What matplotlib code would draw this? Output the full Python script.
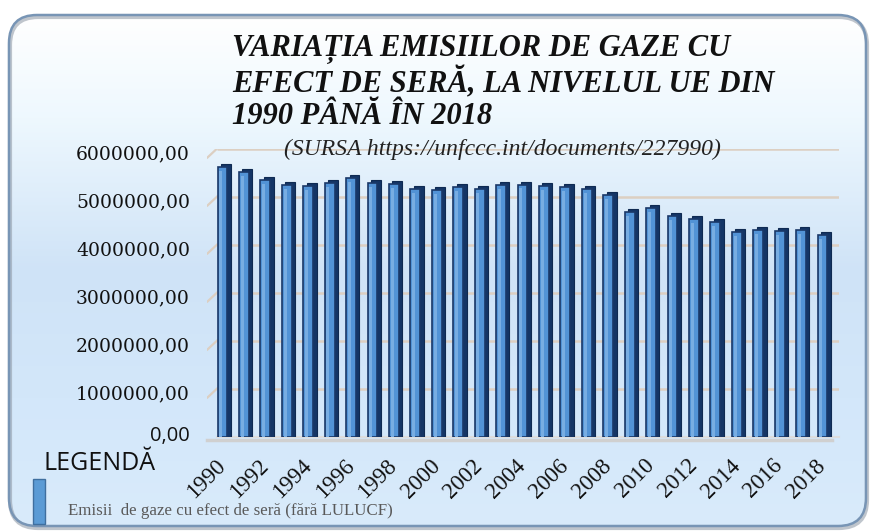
import numpy as np
import matplotlib
matplotlib.use("Agg")
import matplotlib.pyplot as plt
from matplotlib.patches import FancyBboxPatch, Rectangle
from matplotlib.colors import LinearSegmentedColormap
from matplotlib.transforms import ScaledTranslation

# ---------------- data ----------------
years = list(range(1990, 2019))
emissions = [5620000, 5520000, 5350000, 5240000, 5220000, 5280000, 5380000,
             5290000, 5260000, 5150000, 5140000, 5190000, 5150000, 5240000,
             5250000, 5210000, 5190000, 5150000, 5040000, 4670000, 4760000,
             4600000, 4540000, 4460000, 4270000, 4310000, 4290000, 4300000,
             4190000]
yticks = [0, 1000000, 2000000, 3000000, 4000000, 5000000, 6000000]
ytick_labels = ["0,00", "1000000,00", "2000000,00", "3000000,00",
                "4000000,00", "5000000,00", "6000000,00"]
xtick_years = years[::2]
title_lines = ["VARIAȚIA EMISIILOR DE GAZE CU",
               "EFECT DE SERĂ, LA NIVELUL UE DIN",
               "1990 PÂNĂ ÎN 2018"]
subtitle = "(SURSA https://unfccc.int/documents/227990)"
legend_title = "LEGENDĂ"
series_name = "Emisii  de gaze cu efect de seră (fără LULUCF)"

W, H = 872, 531
fig = plt.figure(figsize=(W / 100, H / 100), dpi=100)
fig.patch.set_facecolor("white")

SERIF = ["Liberation Serif", "DejaVu Serif"]
WIDE_SERIF = ["DejaVu Serif"]
SANS = ["Open Sans", "DejaVu Sans"]

# ---------------- background panel ----------------
bg = fig.add_axes([0, 0, 1, 1])
bg.set_xlim(0, W)
bg.set_ylim(H, 0)
bg.axis("off")
cmap = LinearSegmentedColormap.from_list(
    "panel", [(0.0, "#ffffff"), (0.2, "#eef8fe"), (0.5, "#cfe3f7"),
              (0.75, "#d3e7fa"), (1.0, "#d9ebfb")])
grad = np.linspace(0, 1, 256).reshape(-1, 1)
panel = FancyBboxPatch((9, 15), 857, 511, boxstyle="round,pad=0,rounding_size=28",
                       facecolor="none", edgecolor="none", transform=bg.transData)
bg.add_patch(panel)
im = bg.imshow(grad, cmap=cmap, aspect="auto", extent=(9, 866, 526, 15),
               interpolation="bicubic")
im.set_clip_path(panel)
shadow = FancyBboxPatch((10, 17), 857, 511, boxstyle="round,pad=0,rounding_size=28",
                        facecolor="none", edgecolor="#8c96a3", linewidth=3,
                        alpha=0.55, zorder=1)
bg.add_patch(shadow)
border = FancyBboxPatch((9, 15), 857, 511, boxstyle="round,pad=0,rounding_size=28",
                        facecolor="none", edgecolor="#7895b5", linewidth=1.8,
                        zorder=2)
bg.add_patch(border)

# ---------------- main axes ----------------
x0px, pitch = 222.5, 21.43
xl, xr = -0.7, 28.75
left_px = x0px + xl * pitch
right_px = x0px + xr * pitch
bot_px, top_px = 436.5, 148.5
ax = fig.add_axes([left_px / W, (H - bot_px) / H, (right_px - left_px) / W,
                   (bot_px - top_px) / H])
ax.set_xlim(xl, xr)
ax.set_ylim(0, 6000000)
ax.patch.set_alpha(0)
for s in ax.spines.values():
    s.set_visible(False)
ax.set_xticks([])
ax.set_yticks([])

xs = np.arange(len(years))
vals = np.array(emissions, dtype=float)
per_px = 6000000 / (bot_px - top_px)

# gridlines with 3D stubs
for v in yticks[1:]:
    ax.plot([-0.25, xr], [v, v], color="#dccfc2", lw=1.8, zorder=1,
            solid_capstyle="butt")
    ax.plot([-0.7, -0.25], [v - 9 * per_px, v], color="#dccfc2", lw=1.6,
            zorder=1)
# floor
ax.plot([-0.7, xr - 0.3], [-3 * per_px, -3 * per_px], color="#d0d0d0",
        lw=2.5, zorder=1, clip_on=False)
ax.plot([-0.25, xr], [0, 0], color="#dddddd", lw=1.5, zorder=1,
        clip_on=False)

# bars (pseudo 3D)
w = 0.46
ax.bar(xs + 0.16, vals + 3 * per_px, width=w, color="#143566",
       edgecolor="#0f2a52", linewidth=0.8, zorder=2)
ax.bar(xs, vals, width=w, color="#5293d6", edgecolor="#1a3868",
       linewidth=1.2, zorder=3)
ax.bar(xs - 0.08, vals - 4 * per_px, width=0.14, color="#78ade2",
       linewidth=0, zorder=4)

# y tick labels (offset below gridlines like the original)
for v, lab in zip(yticks, ytick_labels):
    if v == 0:
        ax.text(-1.55, v, lab, ha="right", va="center", fontsize=14.5,
                family=SANS, color="#111111",
                transform=ax.transData + ScaledTranslation(0.0, 0.0, fig.dpi_scale_trans))
    else:
        ax.text(-1.52, v, lab, ha="right", va="center", fontsize=13.5,
                family=WIDE_SERIF, color="#111111",
                transform=ax.transData + ScaledTranslation(0.0, -0.055, fig.dpi_scale_trans))

# x tick labels
for yr in xtick_years:
    i = years.index(yr)
    ax.text(i, 0, str(yr), rotation=45, rotation_mode="anchor",
            ha="right", va="center", fontsize=16.5, family=SERIF, color="#111111",
            transform=ax.transData + ScaledTranslation(0.0, -0.26, fig.dpi_scale_trans))

# ---------------- titles ----------------
for k, line in enumerate(title_lines):
    fig.text(232 / W, 1 - (50 + 33.5 * k) / H, line, fontsize=22,
             fontweight="bold", fontstyle="italic", family=SERIF,
             ha="left", va="center", color="#111111")
fig.text(284 / W, 1 - 149 / H, subtitle, fontsize=17, fontstyle="italic",
         family=SERIF, ha="left", va="center", color="#222222")

# ---------------- legend ----------------
fig.text(43 / W, 1 - 463 / H, legend_title, fontsize=18, family=SANS,
         ha="left", va="center", color="#111111")
bg.add_patch(Rectangle((33, 479), 12, 45, facecolor="#5b9bd5",
                       edgecolor="#3f6f9f", linewidth=1.0, zorder=3))
fig.text(68 / W, 1 - 511 / H, series_name, fontsize=12.2, family=SERIF,
         ha="left", va="center", color="#595959")

fig.savefig("out.png", dpi=100)
